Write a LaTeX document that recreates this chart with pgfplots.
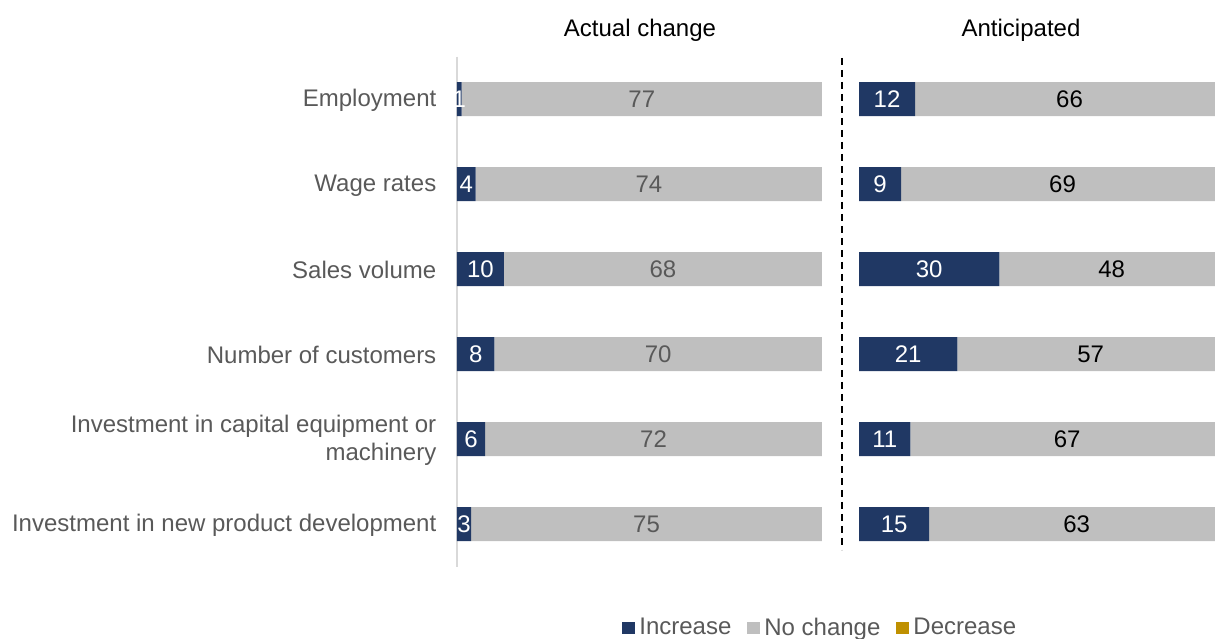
\documentclass[border=0pt]{standalone}
\usepackage{fontspec}
\setmainfont{Liberation Sans}
\usepackage{pgfplots}
\usepackage{pgfplotstable}
\pgfplotsset{compat=1.18}
\definecolor{navy}{HTML}{203864}
\definecolor{lgray}{HTML}{BFBFBF}
\definecolor{gold}{HTML}{BF9000}
\definecolor{dgray}{HTML}{595959}
\definecolor{axgray}{HTML}{D9D9D9}
\newcommand\f{\fontsize{18}{21}\selectfont}

\pgfplotstableread{
row inc nc dec
0 1 77 0
1 4 74 0
2 10 68 0
3 8 70 0
4 6 72 0
5 3 75 0
}\actual

\pgfplotstableread{
row inc nc dec
0 12 66 0
1 9 69 0
2 30 48 0
3 21 57 0
4 11 67 0
5 15 63 0
}\anticipated

\pgfplotsset{
  panel/.style={
    scale only axis,
    height=382.5pt,
    ymin=-0.5, ymax=5.5,
    y dir=reverse,
    xmin=0,
    /pgf/number format/assume math mode=true,
  },
  barA/.style={draw=none, forget plot},
  lab/.style={draw=none, mark=none, forget plot, nodes near coords, point meta=explicit,
    every node near coord/.style={anchor=center, inner sep=0pt, font=\f, text=#1}},
}

\begin{document}
\begin{tikzpicture}
\path[use as bounding box] (0,0) rectangle (911.25pt,479.25pt);

% Left panel: bars
\begin{axis}[panel,
  at={(342.75pt,54.375pt)}, anchor=south west,
  width=273.75pt, xmax=78,
  xbar stacked, bar width=25.5pt,
  axis x line=none, axis y line*=left,
  y axis line style={-, draw=axgray, line width=1.5pt},
  ytick={0,...,5},
  yticklabels={Employment, Wage rates, Sales volume, Number of customers,
    {Investment in capital equipment or\\machinery}, Investment in new product development},
  yticklabel style={font=\f, align=right, text=dgray, xshift=-12pt, yshift=-1pt},
  major tick length=0pt,
  legend style={at={(0.998,-0.120)}, anchor=center, draw=none, fill=none,
    legend columns=3, font=\f, text=dgray, inner sep=0pt,
    nodes={inner xsep=3pt},
    /tikz/every even column/.append style={column sep=9pt}},
  legend image code/.code={\fill (0pt,-5pt) rectangle (9.75pt,4.5pt);},
]
\addplot[barA, fill=navy] table[x=inc, y=row] {\actual};
\addplot[barA, fill=lgray] table[x=nc, y=row] {\actual};
\addplot[barA, fill=gold] table[x=dec, y=row] {\actual};
\addlegendimage{fill=navy, draw=none}
\addlegendentry{Increase}
\addlegendimage{fill=lgray, draw=none}
\addlegendentry{No change}
\addlegendimage{fill=gold, draw=none}
\addlegendentry{Decrease}
\end{axis}

% Left panel: value labels
\begin{axis}[panel,
  at={(342.75pt,54.375pt)}, anchor=south west,
  width=273.75pt, xmax=78, hide axis, clip=false,
]
\addplot[lab=white] table[x expr=\thisrow{inc}/2, y=row, meta=inc] {\actual};
\addplot[lab=dgray] table[x expr=\thisrow{inc}+\thisrow{nc}/2, y=row, meta=nc] {\actual};
\end{axis}

% Right panel: bars
\begin{axis}[panel,
  at={(644.25pt,54.375pt)}, anchor=south west,
  width=267pt, xmax=76.08,
  xbar stacked, bar width=25.5pt,
  hide axis,
]
\addplot[barA, fill=navy] table[x=inc, y=row] {\anticipated};
\addplot[barA, fill=lgray] table[x=nc, y=row] {\anticipated};
\addplot[barA, fill=gold] table[x=dec, y=row] {\anticipated};
\end{axis}

% Right panel: value labels
\begin{axis}[panel,
  at={(644.25pt,54.375pt)}, anchor=south west,
  width=267pt, xmax=76.08, hide axis, clip=false,
]
\addplot[lab=white] table[x expr=\thisrow{inc}/2, y=row, meta=inc] {\anticipated};
\addplot[lab=black] table[x expr=\thisrow{inc}+\thisrow{nc}/2, y=row, meta=nc] {\anticipated};
\end{axis}

% Divider and titles
\draw[black, line width=1.5pt, dash pattern=on 5pt off 4pt] (631.5pt,435.75pt) -- (631.5pt,66.75pt);
\node[font=\f, anchor=center] at (480pt,456.75pt) {Actual change};
\node[font=\f, anchor=center] at (765.75pt,456.75pt) {Anticipated};
\end{tikzpicture}
\end{document}
